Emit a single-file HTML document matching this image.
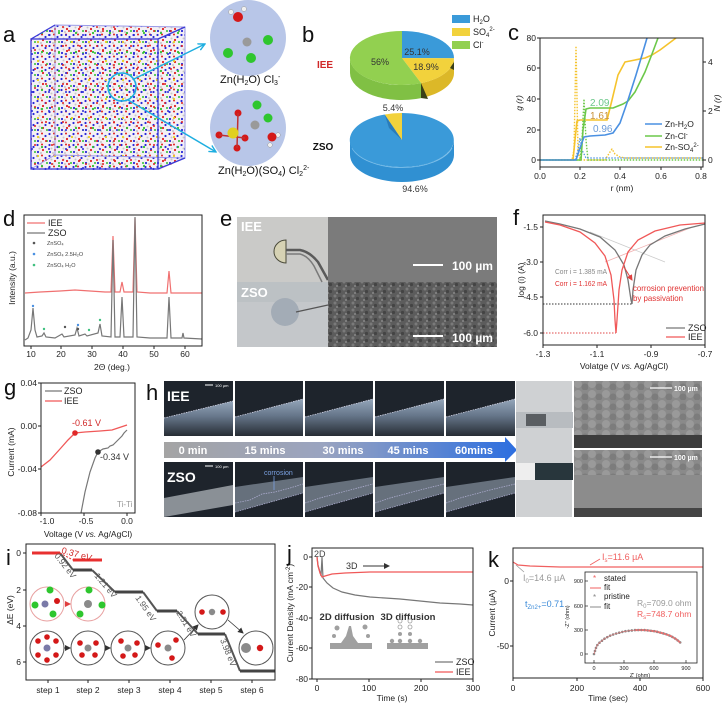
<!DOCTYPE html>
<html><head><meta charset="utf-8"><style>
html,body{margin:0;padding:0;background:#fff;}
svg{display:block;font-family:"Liberation Sans",Arial,sans-serif;}
</style></head><body>
<svg width="723" height="710" viewBox="0 0 723 710" xmlns="http://www.w3.org/2000/svg">
<defs>
<pattern id="molA" width="12" height="11" patternUnits="userSpaceOnUse">
<circle cx="1.5" cy="2" r="1.1" fill="#2a2ad8"/><circle cx="6" cy="1.5" r="1" fill="#e02020"/>
<circle cx="9.5" cy="4" r="1.1" fill="#2a2ad8"/><circle cx="3.5" cy="5.5" r="1" fill="#c8c8c8"/>
<circle cx="7" cy="7" r="1.1" fill="#e02020"/><circle cx="11" cy="9" r="1" fill="#30c030"/>
<circle cx="2" cy="9" r="1.1" fill="#2a2ad8"/><circle cx="5" cy="10" r="0.9" fill="#b8b8b8"/>
</pattern>
<pattern id="molB" width="17" height="19" patternUnits="userSpaceOnUse">
<circle cx="4" cy="4" r="1.1" fill="#e8d020"/><circle cx="12" cy="8" r="1" fill="#e02020"/>
<circle cx="8" cy="14" r="1.1" fill="#30c030"/><circle cx="15" cy="16" r="1" fill="#2a2ad8"/>
<circle cx="1" cy="12" r="1" fill="#e02020"/>
</pattern>
<pattern id="semtex" width="9" height="7" patternUnits="userSpaceOnUse">
<rect width="9" height="7" fill="#5c5c5c"/><circle cx="2" cy="2" r="1.5" fill="#7a7a7a"/><circle cx="6.5" cy="4.5" r="1.6" fill="#444"/><circle cx="4" cy="6" r="1" fill="#888"/>
</pattern>
<pattern id="lump" width="14" height="10" patternUnits="userSpaceOnUse">
<rect width="14" height="10" fill="#8a8a8a"/><circle cx="4" cy="4" r="4" fill="#9a9a9a"/><circle cx="11" cy="7" r="3.5" fill="#7c7c7c"/>
</pattern>
<linearGradient id="tbar" x1="0" x2="1" y1="0" y2="0"><stop offset="0" stop-color="#a4a4a4"/><stop offset="0.45" stop-color="#9aa4c0"/><stop offset="1" stop-color="#2c6ee0"/></linearGradient>
<linearGradient id="bandI" x1="0" x2="0" y1="0" y2="1"><stop offset="0" stop-color="#94a6ba"/><stop offset="0.45" stop-color="#66768a"/><stop offset="1" stop-color="#262c34"/></linearGradient>
<marker id="arrC" markerWidth="8" markerHeight="8" refX="7" refY="4" orient="auto" markerUnits="userSpaceOnUse"><path d="M0,0.5 L7,4 L0,7.5" fill="none" stroke="#1eaee0" stroke-width="1.4"/></marker>
<marker id="arrR" markerWidth="6" markerHeight="6" refX="5" refY="3" orient="auto" markerUnits="userSpaceOnUse"><path d="M0,0 L6,3 L0,6 z" fill="#e04040"/></marker>
<marker id="arrK" markerWidth="6" markerHeight="6" refX="5" refY="3" orient="auto" markerUnits="userSpaceOnUse"><path d="M0,0 L6,3 L0,6 z" fill="#333"/></marker>
</defs>
<rect width="723" height="710" fill="#fff"/>

<!-- ============ Panel a ============ -->
<text x="3" y="42" font-size="22" fill="#111">a</text>
<polygon points="31,39 55,25 185,27 185,158 160,170 31,170" fill="#f4f0f4"/>
<polygon points="31,39 55,25 185,27 185,158 160,170 31,170" fill="url(#molA)"/>
<polygon points="31,39 55,25 185,27 185,158 160,170 31,170" fill="url(#molB)"/>
<g fill="none" stroke="#9a9ae8" stroke-width="1">
<polyline points="55,155 55,25 185,27 185,158 55,155"/><line x1="31" y1="169" x2="55" y2="155"/>
</g>
<g fill="none" stroke="#3a3ad8" stroke-width="1.3">
<rect x="31" y="39" width="127" height="130"/>
<line x1="31" y1="39" x2="55" y2="25"/><line x1="158" y1="39" x2="185" y2="27"/><line x1="158" y1="169" x2="185" y2="158"/>
</g>
<circle cx="122" cy="87" r="14" fill="none" stroke="#1eaee0" stroke-width="1.6"/>
<line x1="134" y1="79" x2="205" y2="44" stroke="#1eaee0" stroke-width="1.5" marker-end="url(#arrC)"/>
<line x1="128" y1="100" x2="216" y2="152" stroke="#1eaee0" stroke-width="1.5" marker-end="url(#arrC)"/>
<circle cx="248" cy="38" r="38" fill="#b8c6e8"/>
<circle cx="248" cy="128" r="38" fill="#b8c6e8"/>
<circle cx="231" cy="12" r="2.5" fill="#f0f0f0" stroke="#999" stroke-width="0.5"/>
<circle cx="244" cy="9" r="2.5" fill="#f0f0f0" stroke="#999" stroke-width="0.5"/>
<circle cx="238" cy="17" r="5" fill="#d41818"/>
<circle cx="247" cy="42" r="4.5" fill="#9a9a9a"/>
<circle cx="228" cy="53" r="5" fill="#2ec62e"/>
<circle cx="251" cy="58" r="5" fill="#2ec62e"/>
<circle cx="268" cy="40" r="5" fill="#2ec62e"/>
<circle cx="219" cy="135" r="3.5" fill="#d41818"/>
<circle cx="238" cy="113" r="3.5" fill="#d41818"/>
<circle cx="245" cy="138" r="3.5" fill="#d41818"/>
<circle cx="237" cy="148" r="3.5" fill="#d41818"/>
<line x1="219" y1="135" x2="245" y2="138" stroke="#c03030" stroke-width="1.5"/>
<line x1="238" y1="113" x2="237" y2="148" stroke="#c03030" stroke-width="1.5"/>
<circle cx="233" cy="133" r="5.5" fill="#e0d020"/>
<circle cx="257" cy="105" r="4.5" fill="#2ec62e"/>
<circle cx="268" cy="118" r="4.5" fill="#2ec62e"/>
<circle cx="255" cy="125" r="4.5" fill="#9a9a9a"/>
<circle cx="278" cy="135" r="2.3" fill="#f0f0f0" stroke="#999" stroke-width="0.5"/>
<circle cx="270" cy="145" r="2.3" fill="#f0f0f0" stroke="#999" stroke-width="0.5"/>
<circle cx="272" cy="137" r="4.5" fill="#d41818"/>
<text x="220" y="83" font-size="11" fill="#111">Zn(H<tspan font-size="7" dy="2">2</tspan><tspan dy="-2">O) Cl</tspan><tspan font-size="7" dy="2">3</tspan><tspan font-size="7" dy="-6">-</tspan></text>
<text x="218" y="174" font-size="11" fill="#111">Zn(H<tspan font-size="7" dy="2">2</tspan><tspan dy="-2">O)(SO</tspan><tspan font-size="7" dy="2">4</tspan><tspan dy="-2">) Cl</tspan><tspan font-size="7" dy="2">2</tspan><tspan font-size="7" dy="-6">2-</tspan></text>

<!-- ============ Panel b ============ -->
<text x="302" y="42" font-size="22" fill="#111">b</text>
<rect x="452" y="15" width="18" height="8" fill="#3a9ad9"/>
<rect x="452" y="28" width="18" height="8" fill="#f2d23c"/>
<rect x="452" y="41" width="18" height="8" fill="#92d050"/>
<text x="473" y="22" font-size="9" fill="#222">H<tspan font-size="6" dy="2">2</tspan><tspan dy="-2">O</tspan></text>
<text x="473" y="35" font-size="9" fill="#222">SO<tspan font-size="6" dy="2">4</tspan><tspan font-size="6" dy="-6">2-</tspan></text>
<text x="473" y="48" font-size="9" fill="#222">Cl<tspan font-size="6" dy="-4">-</tspan></text>
<path d="M454 58.2 L454 73.2 A52 27 0 0 1 421.1 98.1 L421.1 83.1 A52 27 0 0 0 454 58.2 Z" fill="#dcb828"/>
<path d="M421.1 83.1 L421.1 98.1 A52 27 0 0 1 350 73 L350 58 A52 27 0 0 0 421.1 83.1 Z" fill="#80c044"/>
<path d="M402 58 L402 31 A52 27 0 0 1 454 58.2 Z" fill="#3a9ad9"/>
<path d="M402 58 L454 58.2 A52 27 0 0 1 421.1 83.1 Z" fill="#f2d23c"/>
<path d="M402 58 L421.1 83.1 A52 27 0 1 1 402 31 Z" fill="#92d050"/>
<path d="M421 83 L428 99 L421 98 Z" fill="#3a4018"/>
<path d="M454 62 L450 68 L454 70 Z" fill="#3a4018"/>
<text x="417" y="55" font-size="9" fill="#333" text-anchor="middle">25.1%</text>
<text x="426" y="70" font-size="9" fill="#333" text-anchor="middle">18.9%</text>
<text x="380" y="65" font-size="9" fill="#333" text-anchor="middle">56%</text>
<text x="325" y="68" font-size="10" font-weight="bold" fill="#d02828" text-anchor="middle">IEE</text>
<path d="M454 140 L454 155 A52 27 0 0 1 350 155 L350 140 A52 27 0 0 0 454 140 Z" fill="#3090d2"/>
<path d="M352 148 A52 27 0 0 0 452 148" fill="none" stroke="#7ec0ea" stroke-width="0.8"/>
<path d="M402 140 L402 113 A52 27 0 1 1 384.7 114.5 Z" fill="#3a9ad9"/>
<path d="M402 140 L384.7 114.5 A52 27 0 0 1 402 113 Z" fill="#f2d23c"/>
<path d="M384.7 114.5 L402 140 L389 128 Z" fill="#2a7cba"/>
<text x="393" y="111" font-size="9" fill="#333" text-anchor="middle">5.4%</text>
<text x="415" y="192" font-size="9" fill="#333" text-anchor="middle">94.6%</text>
<text x="323" y="150" font-size="10" font-weight="bold" fill="#111" text-anchor="middle">ZSO</text>

<!-- ============ Panel c ============ -->
<text x="508" y="40" font-size="22" fill="#111">c</text>
<g fill="none" stroke-linejoin="round">
<polyline points="540,160 572,160 574,150 576,46 578,150 580,160 605,160 610,152 612,149 615,154 620,157 625,158 703,158" stroke="#f5c32c" stroke-width="1.4" stroke-dasharray="1.5,1.5"/>
<polyline points="540,160 580,160 582,140 584,99 586,140 588,160 703,160" stroke="#6cc84a" stroke-width="1.4" stroke-dasharray="1.5,1.5"/>
<polyline points="575,160 578,150 580,138 582,150 586,158 620,158 703,158" stroke="#4a90e2" stroke-width="1.2" stroke-dasharray="1.5,1.5"/>
<polyline points="540,160 573,160 575,140 577,121 580,120 607,120 612,100 618,75 625,62 635,60 645,58 652,55 660,50 668,44 676,38" stroke="#f5c32c" stroke-width="1.6"/>
<polyline points="540,160 581,160 583,130 586,109 590,108 613,108 618,106 623,104 628,101 635,92 645,72 652,54 658,38" stroke="#6cc84a" stroke-width="1.6"/>
<polyline points="540,160 576,160 580,148 584,137 590,136 605,135 613,133 620,123 628,100 636,75 642,55 647,38" stroke="#4a90e2" stroke-width="1.6"/>
</g>
<rect x="540" y="38" width="163" height="129" fill="none" stroke="#222" stroke-width="1"/>
<g stroke="#222" stroke-width="1">
<line x1="537" y1="160" x2="540" y2="160"/><line x1="537" y1="130" x2="540" y2="130"/><line x1="537" y1="99" x2="540" y2="99"/><line x1="537" y1="68" x2="540" y2="68"/><line x1="537" y1="38" x2="540" y2="38"/>
<line x1="540" y1="167" x2="540" y2="170"/><line x1="580" y1="167" x2="580" y2="170"/><line x1="620" y1="167" x2="620" y2="170"/><line x1="661" y1="167" x2="661" y2="170"/><line x1="701" y1="167" x2="701" y2="170"/>
<line x1="703" y1="160" x2="706" y2="160"/><line x1="703" y1="111" x2="706" y2="111"/><line x1="703" y1="62" x2="706" y2="62"/>
</g>
<g font-size="8.5" fill="#222">
<text x="536" y="163" text-anchor="end">0</text><text x="536" y="133" text-anchor="end">20</text><text x="536" y="102" text-anchor="end">40</text><text x="536" y="71" text-anchor="end">60</text><text x="536" y="41" text-anchor="end">80</text>
<text x="540" y="179" text-anchor="middle">0.0</text><text x="580" y="179" text-anchor="middle">0.2</text><text x="620" y="179" text-anchor="middle">0.4</text><text x="661" y="179" text-anchor="middle">0.6</text><text x="701" y="179" text-anchor="middle">0.8</text>
<text x="708" y="163">0</text><text x="708" y="114">2</text><text x="708" y="65">4</text>
<text x="622" y="191" text-anchor="middle">r (nm)</text>
<text transform="translate(522,103) rotate(-90)" text-anchor="middle" font-style="italic">g (r)</text>
<text transform="translate(720,103) rotate(-90)" text-anchor="middle" font-style="italic">N (r)</text>
</g>
<text x="590" y="106" font-size="10" fill="#6cc88a">2.09</text>
<text x="590" y="119" font-size="10" fill="#c8923a">1.61</text>
<text x="593" y="132" font-size="10" fill="#6a9ad8">0.96</text>
<line x1="645" y1="124" x2="662" y2="124" stroke="#4a90e2" stroke-width="1.6"/>
<line x1="645" y1="136" x2="662" y2="136" stroke="#6cc84a" stroke-width="1.6"/>
<line x1="645" y1="147" x2="662" y2="147" stroke="#f5c32c" stroke-width="1.6"/>
<g font-size="8.5" fill="#222">
<text x="665" y="127">Zn-H<tspan font-size="6" dy="2">2</tspan><tspan dy="-2">O</tspan></text>
<text x="665" y="139">Zn-Cl<tspan font-size="6" dy="-3">-</tspan></text>
<text x="665" y="150">Zn-SO<tspan font-size="6" dy="2">4</tspan><tspan font-size="6" dy="-5">2-</tspan></text>
</g>

<!-- ============ Panel d ============ -->
<text x="3" y="226" font-size="22" fill="#111">d</text>
<polyline fill="none" stroke="#f07070" stroke-width="1.2" points="25,293 40,292 60,291 75,290 90,291 105,292 111,292 113,236 115,292 120,292 122,282 124,292 133,292 135,218 137,292 150,293 167,293 169,271 171,293 202,293"/>
<polyline fill="none" stroke="#777" stroke-width="1.2" points="25,340 28,338 31,330 33,308 35,330 37,337 42,336 44,333 46,337 55,338 62,334 64,337 75,335 77,328 79,336 85,334 87,336 98,333 100,324 102,336 111,337 113,240 115,337 120,337 122,297 124,337 133,337 135,217 137,337 150,338 167,338 169,297 171,338 182,338 183,333 184,338 202,339"/>
<rect x="24" y="215" width="178" height="131" fill="none" stroke="#222" stroke-width="1"/>
<g stroke="#222"><line x1="31" y1="346" x2="31" y2="349"/><line x1="61" y1="346" x2="61" y2="349"/><line x1="92" y1="346" x2="92" y2="349"/><line x1="123" y1="346" x2="123" y2="349"/><line x1="154" y1="346" x2="154" y2="349"/><line x1="185" y1="346" x2="185" y2="349"/></g>
<g font-size="8.5" fill="#222" text-anchor="middle">
<text x="31" y="357">10</text><text x="61" y="357">20</text><text x="92" y="357">30</text><text x="123" y="357">40</text><text x="154" y="357">50</text><text x="185" y="357">60</text>
<text x="112" y="370">2Θ (deg.)</text>
<text transform="translate(15,278) rotate(-90)">Intensity (a.u.)</text>
</g>
<line x1="27" y1="223" x2="45" y2="223" stroke="#f07070" stroke-width="1.2"/>
<line x1="27" y1="233" x2="45" y2="233" stroke="#777" stroke-width="1.2"/>
<text x="48" y="226" font-size="9" fill="#222">IEE</text>
<text x="48" y="236" font-size="9" fill="#222">ZSO</text>
<circle cx="34" cy="243" r="1.3" fill="#555"/><circle cx="34" cy="254" r="1.3" fill="#4a90e2"/><circle cx="34" cy="265" r="1.3" fill="#40c080"/>
<g font-size="5.5" fill="#444"><text x="47" y="245">ZnSO₄</text><text x="47" y="256">ZnSO₄ 2.5H₂O</text><text x="47" y="267">ZnSO₄ H₂O</text></g>
<g><circle cx="33" cy="306" r="1.2" fill="#4a90e2"/><circle cx="44" cy="329" r="1.2" fill="#40c080"/><circle cx="65" cy="327" r="1.2" fill="#555"/><circle cx="78" cy="325" r="1.2" fill="#4a90e2"/><circle cx="78" cy="329" r="1.2" fill="#555"/><circle cx="89" cy="330" r="1.2" fill="#40c080"/><circle cx="100" cy="320" r="1.2" fill="#40c080"/></g>

<!-- ============ Panel e ============ -->
<text x="220" y="226" font-size="22" fill="#111">e</text>
<rect x="237" y="217" width="91" height="65" fill="#cacac8"/>
<rect x="237" y="282" width="91" height="65" fill="#c4c7ca"/>
<rect x="237" y="282" width="91" height="20" fill="#b8bcc0" opacity="0.6"/>
<path d="M286 240 L286 263 A12 11.5 0 0 1 286 240 Z" fill="#d6d2b4" stroke="#4a4a3a" stroke-width="1"/>
<path d="M286 250 L300 250 Q310 252 318 262 L328 280" fill="none" stroke="#5a5a5a" stroke-width="2.5"/>
<path d="M286 254 L300 254 Q308 256 314 266 L322 282" fill="none" stroke="#7a7a7a" stroke-width="1.5"/>
<circle cx="285" cy="312" r="14" fill="#a3acb6"/>
<line x1="296" y1="312" x2="328" y2="305" stroke="#555" stroke-width="1.2"/>
<text x="241" y="231" font-size="13" font-weight="bold" fill="#fff">IEE</text>
<text x="241" y="297" font-size="13" font-weight="bold" fill="#fff">ZSO</text>
<rect x="328" y="217" width="169" height="65" fill="#7b7b7b"/>
<rect x="328" y="282" width="169" height="65" fill="url(#semtex)"/>
<line x1="413" y1="265" x2="443" y2="265" stroke="#fff" stroke-width="2"/>
<text x="452" y="270" font-size="12" font-weight="bold" fill="#fff">100 µm</text>
<line x1="413" y1="336" x2="443" y2="336" stroke="#fff" stroke-width="2"/>
<text x="452" y="342" font-size="12" font-weight="bold" fill="#fff">100 µm</text>

<!-- ============ Panel f ============ -->
<text x="513" y="225" font-size="22" fill="#111">f</text>
<line x1="590" y1="232" x2="665" y2="262" stroke="#ccc" stroke-width="0.8"/>
<line x1="605" y1="262" x2="690" y2="228" stroke="#f0b0b0" stroke-width="0.8"/>
<line x1="543" y1="304" x2="632" y2="304" stroke="#333" stroke-width="1" stroke-dasharray="1.5,1.5"/>
<line x1="543" y1="333" x2="616" y2="333" stroke="#e04848" stroke-width="1" stroke-dasharray="1.5,1.5"/>
<polyline fill="none" stroke="#777" stroke-width="1.3" points="545,221 560,224 580,229 600,237 615,250 624,265 628,280 631,300 632,304 633,290 636,270 642,255 650,245 665,236 685,229 705,224"/>
<polyline fill="none" stroke="#f05858" stroke-width="1.3" points="545,222 560,225 580,232 595,243 605,256 611,275 614,300 615,320 616,333 617,320 619,290 622,270 628,252 638,240 655,231 680,225 705,223"/>
<rect x="543" y="215" width="162" height="130" fill="none" stroke="#222" stroke-width="1"/>
<g stroke="#222"><line x1="540" y1="227" x2="543" y2="227"/><line x1="540" y1="262" x2="543" y2="262"/><line x1="540" y1="297" x2="543" y2="297"/><line x1="540" y1="333" x2="543" y2="333"/>
<line x1="543" y1="345" x2="543" y2="348"/><line x1="597" y1="345" x2="597" y2="348"/><line x1="651" y1="345" x2="651" y2="348"/><line x1="705" y1="345" x2="705" y2="348"/></g>
<g font-size="8.5" fill="#222">
<text x="538" y="230" text-anchor="end">-1.5</text><text x="538" y="265" text-anchor="end">-3.0</text><text x="538" y="300" text-anchor="end">-4.5</text><text x="538" y="336" text-anchor="end">-6.0</text>
<text x="543" y="357" text-anchor="middle">-1.3</text><text x="597" y="357" text-anchor="middle">-1.1</text><text x="651" y="357" text-anchor="middle">-0.9</text><text x="705" y="357" text-anchor="middle">-0.7</text>
<text x="624" y="369" text-anchor="middle">Volatge (V <tspan font-style="italic">vs.</tspan> Ag/AgCl)</text>
<text transform="translate(524,280) rotate(-90)" text-anchor="middle">log (i) (A)</text>
</g>
<text x="555" y="274" font-size="7.5" fill="#888" textLength="52" lengthAdjust="spacingAndGlyphs">Corr i = 1.385 mA</text>
<text x="555" y="286" font-size="7.5" fill="#e03030" textLength="52" lengthAdjust="spacingAndGlyphs">Corr i = 1.162 mA</text>
<line x1="624" y1="267" x2="632" y2="280" stroke="#e04040" stroke-width="1" marker-end="url(#arrR)"/>
<text x="633" y="291" font-size="8.5" fill="#e03030" textLength="71" lengthAdjust="spacingAndGlyphs">corrosion prevention</text>
<text x="633" y="301" font-size="8.5" fill="#e03030" textLength="50" lengthAdjust="spacingAndGlyphs">by passivation</text>
<line x1="666" y1="328" x2="685" y2="328" stroke="#777" stroke-width="1.3"/>
<line x1="666" y1="337" x2="685" y2="337" stroke="#f05858" stroke-width="1.3"/>
<text x="688" y="331" font-size="9" fill="#222">ZSO</text>
<text x="688" y="340" font-size="9" fill="#222">IEE</text>

<!-- ============ Panel g ============ -->
<text x="4" y="395" font-size="22" fill="#111">g</text>
<polyline fill="none" stroke="#f05858" stroke-width="1.3" points="41,467 50,460 60,449 68,440 75,433 85,432 100,431 112,430 118,428 127,425"/>
<polyline fill="none" stroke="#777" stroke-width="1.2" points="81,513 85,492 90,472 95,458 98,452 103,449 108,448 110,446 113,445 116,442 119,439 122,436 124,433 127,430"/>
<circle cx="75" cy="433" r="2.8" fill="#e02828"/>
<circle cx="98" cy="452" r="2.8" fill="#333"/>
<rect x="41" y="383" width="94" height="130" fill="none" stroke="#222" stroke-width="1"/>
<g stroke="#222"><line x1="38" y1="383" x2="41" y2="383"/><line x1="38" y1="426" x2="41" y2="426"/><line x1="38" y1="469" x2="41" y2="469"/><line x1="38" y1="513" x2="41" y2="513"/>
<line x1="41" y1="513" x2="41" y2="516"/><line x1="84" y1="513" x2="84" y2="516"/><line x1="127" y1="513" x2="127" y2="516"/></g>
<g font-size="8.5" fill="#222">
<text x="37" y="386" text-anchor="end">0.04</text><text x="37" y="429" text-anchor="end">0.00</text><text x="37" y="472" text-anchor="end">-0.04</text><text x="37" y="516" text-anchor="end">-0.08</text>
<text x="47" y="524" text-anchor="middle">-1.0</text><text x="86" y="524" text-anchor="middle">-0.5</text><text x="127" y="524" text-anchor="middle">0.0</text>
<text x="88" y="537" text-anchor="middle">Voltage (V <tspan font-style="italic">vs.</tspan> Ag/AgCl)</text>
<text transform="translate(14,452) rotate(-90)" text-anchor="middle">Current (mA)</text>
</g>
<line x1="45" y1="391" x2="62" y2="391" stroke="#777" stroke-width="1.2"/>
<line x1="45" y1="401" x2="62" y2="401" stroke="#f05858" stroke-width="1.2"/>
<text x="64" y="394" font-size="9" fill="#222">ZSO</text>
<text x="64" y="404" font-size="9" fill="#222">IEE</text>
<text x="72" y="426" font-size="9" fill="#d02828">-0.61 V</text>
<text x="100" y="460" font-size="9" fill="#333">-0.34 V</text>
<text x="117" y="507" font-size="8" fill="#999">Ti-Ti</text>

<!-- ============ Panel h ============ -->
<text x="146" y="400" font-size="22" fill="#111">h</text>
<g>
<rect x="164" y="381" width="69" height="55" fill="#1e242c"/>
<rect x="235" y="381" width="68" height="55" fill="#1e242c"/>
<rect x="305" y="381" width="68" height="55" fill="#1e242c"/>
<rect x="375" y="381" width="69" height="55" fill="#1e242c"/>
<rect x="446" y="381" width="69" height="55" fill="#1e242c"/>
<polygon points="164,418 233,401 233,436 164,436" fill="url(#bandI)"/>
<polygon points="235,417 303,399 303,436 235,436" fill="url(#bandI)"/>
<polygon points="305,417 373,399 373,436 305,436" fill="url(#bandI)"/>
<polygon points="375,417 444,399 444,436 375,436" fill="url(#bandI)"/>
<polygon points="446,417 515,399 515,436 446,436" fill="url(#bandI)"/>
<g stroke="#dde" stroke-width="0.7" stroke-dasharray="1.5,1">
<line x1="164" y1="418" x2="233" y2="401"/><line x1="235" y1="417" x2="303" y2="399"/><line x1="305" y1="417" x2="373" y2="399"/><line x1="375" y1="417" x2="444" y2="399"/><line x1="446" y1="417" x2="515" y2="399"/>
</g>
<rect x="164" y="462" width="69" height="55" fill="#1e242c"/>
<rect x="235" y="462" width="68" height="55" fill="#1e242c"/>
<rect x="305" y="462" width="68" height="55" fill="#1e242c"/>
<rect x="375" y="462" width="69" height="55" fill="#1e242c"/>
<rect x="446" y="462" width="69" height="55" fill="#1e242c"/>
<polygon points="164,498 233,485 233,505 164,517" fill="#8a9096"/>
<polygon points="235,487 303,477 303,493 235,512" fill="#66707c"/>
<polygon points="305,487 373,477 373,493 305,512" fill="#66707c"/>
<polygon points="375,487 444,477 444,493 375,512" fill="#66707c"/>
<polygon points="446,487 515,477 515,493 446,512" fill="#66707c"/>
<g fill="none" stroke="#aac" stroke-width="0.8" stroke-dasharray="1.5,1">
<polyline points="235,503 250,500 262,494 275,492 290,488 303,484"/>
<polyline points="305,503 320,498 335,494 350,490 373,484"/>
<polyline points="375,503 390,498 405,494 420,490 444,484"/>
<polyline points="446,503 460,498 475,494 490,490 515,484"/>
<line x1="235" y1="512" x2="303" y2="493"/><line x1="305" y1="512" x2="373" y2="493"/><line x1="375" y1="512" x2="444" y2="493"/><line x1="446" y1="512" x2="515" y2="493"/>
</g>
<line x1="274" y1="476" x2="274" y2="490" stroke="#7aa0e0" stroke-width="0.8"/>
<text x="264" y="475" font-size="7" fill="#7aa0e0">corrosion</text>
<text x="167" y="401" font-size="14" font-weight="bold" fill="#fff">IEE</text>
<text x="167" y="482" font-size="14" font-weight="bold" fill="#fff">ZSO</text>
<line x1="205" y1="385" x2="213" y2="385" stroke="#fff" stroke-width="1"/><text x="215" y="387" font-size="4" fill="#fff">100 µm</text>
<line x1="205" y1="466" x2="213" y2="466" stroke="#fff" stroke-width="1"/><text x="215" y="468" font-size="4" fill="#fff">100 µm</text>
<polygon points="164,442 505,442 505,437 517,450 505,462 505,458 164,458" fill="url(#tbar)"/>
<g font-size="11" font-weight="bold" fill="#fff" text-anchor="middle">
<text x="193" y="454">0 min</text><text x="265" y="454">15 mins</text><text x="343" y="454">30 mins</text><text x="408" y="454">45 mins</text><text x="474" y="454">60mins</text>
</g>
<rect x="516" y="381" width="56" height="136" fill="#cfd1d3"/>
<rect x="516" y="412" width="57" height="16" fill="#b8bcc0"/>
<rect x="526" y="414" width="20" height="12" fill="#5a5e62"/>
<rect x="516" y="463" width="19" height="17" fill="#eeeeee"/>
<rect x="535" y="463" width="38" height="17" fill="#28363c"/>
<rect x="574" y="381" width="128" height="67" fill="url(#lump)"/>
<rect x="574" y="435" width="128" height="13" fill="#3c3c3c"/>
<rect x="574" y="450" width="128" height="67" fill="#8c8c8c"/>
<rect x="574" y="450" width="128" height="25" fill="url(#lump)"/>
<rect x="574" y="508" width="128" height="9" fill="#444"/>
<line x1="650" y1="388" x2="672" y2="388" stroke="#fff" stroke-width="1.3"/>
<text x="674" y="391" font-size="7" font-weight="bold" fill="#fff">100 µm</text>
<line x1="650" y1="457" x2="672" y2="457" stroke="#fff" stroke-width="1.3"/>
<text x="674" y="460" font-size="7" font-weight="bold" fill="#fff">100 µm</text>
</g>

<!-- ============ Panel i ============ -->
<text x="6" y="565" font-size="22" fill="#111">i</text>
<g stroke="#555" stroke-width="2" fill="none">
<line x1="60" y1="553" x2="73" y2="570"/><line x1="92" y1="570" x2="115" y2="592"/><line x1="143" y1="592" x2="157" y2="611"/><line x1="177" y1="611" x2="198" y2="634"/><line x1="225" y1="634" x2="240" y2="671"/>
</g>
<g stroke="#444" stroke-width="3">
<line x1="73" y1="570" x2="92" y2="570"/><line x1="115" y1="592" x2="143" y2="592"/><line x1="157" y1="611" x2="177" y2="611"/><line x1="198" y1="634" x2="225" y2="634"/><line x1="240" y1="671" x2="275" y2="671"/>
</g>
<line x1="32" y1="553" x2="60" y2="553" stroke="#e83030" stroke-width="3"/>
<line x1="73" y1="560" x2="102" y2="560" stroke="#e83030" stroke-width="3"/>
<line x1="60" y1="553" x2="73" y2="560" stroke="#e83030" stroke-width="1" stroke-dasharray="2,1.5"/>
<text transform="translate(61,553) rotate(15)" font-size="9" fill="#d02828">0.37 eV</text>
<g font-size="8.5" fill="#555">
<text transform="translate(54,556) rotate(52)">0.92 eV</text>
<text transform="translate(94,576) rotate(50)">1.21 eV</text>
<text transform="translate(135,598) rotate(55)">1.95 eV</text>
<text transform="translate(176,613) rotate(58)">2.51 eV</text>
<text transform="translate(220,640) rotate(68)">3.98 eV</text>
</g>
<circle cx="47" cy="604" r="17" fill="#fff" stroke="#e8a0a0" stroke-width="1"/>
<circle cx="88" cy="604" r="17" fill="#fff" stroke="#e8a0a0" stroke-width="1"/>
<line x1="65" y1="604" x2="70" y2="604" stroke="#d03030" stroke-width="1" marker-end="url(#arrR)"/>
<circle cx="50" cy="590" r="3.5" fill="#2ec62e"/><circle cx="35" cy="605" r="3.5" fill="#2ec62e"/><circle cx="53" cy="614" r="3.5" fill="#2ec62e"/>
<circle cx="45" cy="604" r="3.5" fill="#7a7aa8"/><circle cx="57" cy="601" r="3" fill="#d41818"/>
<circle cx="88" cy="604" r="4" fill="#8a8a8a"/><circle cx="89" cy="590" r="3.5" fill="#2ec62e"/><circle cx="80" cy="614" r="3.5" fill="#2ec62e"/><circle cx="102" cy="605" r="3.5" fill="#2ec62e"/>
<g fill="#fff" stroke="#555" stroke-width="1">
<circle cx="47" cy="648" r="17"/><circle cx="88" cy="648" r="17"/><circle cx="128" cy="648" r="17"/><circle cx="168" cy="648" r="17"/><circle cx="212" cy="612" r="17"/><circle cx="256" cy="648" r="17"/>
</g>
<g stroke="#333" stroke-width="0.8"><line x1="64" y1="648" x2="70" y2="648" marker-end="url(#arrK)"/><line x1="105" y1="648" x2="110" y2="648" marker-end="url(#arrK)"/><line x1="145" y1="648" x2="150" y2="648" marker-end="url(#arrK)"/><line x1="184" y1="640" x2="198" y2="625" marker-end="url(#arrK)"/><line x1="228" y1="620" x2="243" y2="633" marker-end="url(#arrK)"/></g>
<circle cx="47" cy="648" r="3.5" fill="#7a7aa8"/>
<g fill="#d41818">
<circle cx="38" cy="641" r="2.8"/><circle cx="56" cy="641" r="2.8"/><circle cx="38" cy="655" r="2.8"/><circle cx="56" cy="655" r="2.8"/><circle cx="47" cy="637" r="2.8"/><circle cx="47" cy="660" r="2.8"/>
<circle cx="80" cy="643" r="2.8"/><circle cx="96" cy="643" r="2.8"/><circle cx="82" cy="655" r="2.8"/><circle cx="95" cy="655" r="2.8"/>
<circle cx="121" cy="641" r="2.8"/><circle cx="137" cy="643" r="2.8"/><circle cx="123" cy="656" r="2.8"/><circle cx="135" cy="655" r="2.8"/>
<circle cx="158" cy="645" r="2.8"/><circle cx="176" cy="640" r="2.8"/><circle cx="172" cy="658" r="2.8"/>
<circle cx="202" cy="612" r="2.8"/><circle cx="223" cy="612" r="2.8"/>
<circle cx="260" cy="648" r="3.2"/>
</g>
<g fill="#8a8a8a"><circle cx="88" cy="648" r="3.5"/><circle cx="128" cy="648" r="3.5"/><circle cx="168" cy="648" r="3.5"/><circle cx="212" cy="612" r="3.2"/><circle cx="246" cy="648" r="5"/></g>
<rect x="26" y="544" width="249" height="136" fill="none" stroke="#222" stroke-width="1"/>
<g stroke="#222"><line x1="23" y1="553" x2="26" y2="553"/><line x1="23" y1="590" x2="26" y2="590"/><line x1="23" y1="626" x2="26" y2="626"/><line x1="23" y1="662" x2="26" y2="662"/>
<line x1="48" y1="680" x2="48" y2="683"/><line x1="88" y1="680" x2="88" y2="683"/><line x1="129" y1="680" x2="129" y2="683"/><line x1="170" y1="680" x2="170" y2="683"/><line x1="211" y1="680" x2="211" y2="683"/><line x1="252" y1="680" x2="252" y2="683"/></g>
<g font-size="8.5" fill="#222">
<text x="21" y="556" text-anchor="end">0</text><text x="21" y="593" text-anchor="end">2</text><text x="21" y="629" text-anchor="end">4</text><text x="21" y="665" text-anchor="end">6</text>
<text x="48" y="693" text-anchor="middle">step 1</text><text x="88" y="693" text-anchor="middle">step 2</text><text x="129" y="693" text-anchor="middle">step 3</text><text x="170" y="693" text-anchor="middle">step 4</text><text x="211" y="693" text-anchor="middle">step 5</text><text x="252" y="693" text-anchor="middle">step 6</text>
<text transform="translate(13,610) rotate(-90)" text-anchor="middle">ΔE (eV)</text>
</g>

<!-- ============ Panel j ============ -->
<text x="287" y="561" font-size="22" fill="#111">j</text>
<polyline fill="none" stroke="#777" stroke-width="1.2" points="317,557 318,565 320,572 321,576 322,557 323,578 327,583 333,588 342,592 355,595 370,597 385,598 400,599 420,601 440,603 460,604 473,605"/>
<polyline fill="none" stroke="#f05858" stroke-width="1.3" points="317,557 318,566 320,573 322,577 325,576 332,574 345,573 370,572 420,572 473,572"/>
<text x="314" y="557" font-size="9" fill="#444">2D</text>
<text x="346" y="569" font-size="9" fill="#333">3D</text>
<line x1="363" y1="566" x2="389" y2="566" stroke="#333" stroke-width="1" marker-end="url(#arrK)"/>
<text x="347" y="620" font-size="9.5" font-weight="bold" fill="#333" text-anchor="middle">2D diffusion</text>
<text x="408" y="620" font-size="9.5" font-weight="bold" fill="#333" text-anchor="middle">3D diffusion</text>
<rect x="330" y="643" width="42" height="6" fill="#a0a0a0"/>
<polygon points="341,643 346,636 349,626 351,626 353,636 358,643" fill="#a0a0a0"/>
<g fill="#a0a0a0"><circle cx="337" cy="628" r="2.5"/><circle cx="365" cy="627" r="2.5"/><circle cx="334" cy="636" r="2"/><circle cx="368" cy="636" r="2"/></g>
<rect x="387" y="643" width="41" height="6" fill="#a0a0a0"/>
<g fill="#a0a0a0"><circle cx="392" cy="641" r="2.2"/><circle cx="400" cy="641" r="2.2"/><circle cx="410" cy="641" r="2.2"/><circle cx="420" cy="641" r="2.2"/>
<circle cx="400" cy="634" r="2"/><circle cx="410" cy="634" r="2"/></g>
<g fill="none" stroke="#a0a0a0" stroke-width="0.8"><circle cx="400" cy="627" r="2"/><circle cx="410" cy="627" r="2"/><circle cx="400" cy="621" r="2"/><circle cx="410" cy="621" r="2"/></g>
<rect x="312" y="548" width="161" height="131" fill="none" stroke="#222" stroke-width="1"/>
<g stroke="#222"><line x1="309" y1="557" x2="312" y2="557"/><line x1="309" y1="587" x2="312" y2="587"/><line x1="309" y1="618" x2="312" y2="618"/><line x1="309" y1="648" x2="312" y2="648"/><line x1="309" y1="679" x2="312" y2="679"/>
<line x1="317" y1="679" x2="317" y2="682"/><line x1="369" y1="679" x2="369" y2="682"/><line x1="421" y1="679" x2="421" y2="682"/><line x1="473" y1="679" x2="473" y2="682"/></g>
<g font-size="8.5" fill="#222">
<text x="308" y="560" text-anchor="end">0</text><text x="308" y="590" text-anchor="end">-20</text><text x="308" y="621" text-anchor="end">-40</text><text x="308" y="651" text-anchor="end">-60</text><text x="308" y="682" text-anchor="end">-80</text>
<text x="317" y="691" text-anchor="middle">0</text><text x="369" y="691" text-anchor="middle">100</text><text x="421" y="691" text-anchor="middle">200</text><text x="473" y="691" text-anchor="middle">300</text>
<text x="392" y="701" text-anchor="middle">Time (s)</text>
<text transform="translate(293,613) rotate(-90)" text-anchor="middle">Current Density (mA cm<tspan font-size="6" dy="-3">-2</tspan><tspan dy="3">)</tspan></text>
</g>
<line x1="435" y1="662" x2="453" y2="662" stroke="#777" stroke-width="1.2"/>
<line x1="435" y1="672" x2="453" y2="672" stroke="#f05858" stroke-width="1.3"/>
<text x="456" y="665" font-size="9" fill="#222">ZSO</text>
<text x="456" y="675" font-size="9" fill="#222">IEE</text>

<!-- ============ Panel k ============ -->
<text x="488" y="567" font-size="22" fill="#111">k</text>
<polyline fill="none" stroke="#f06060" stroke-width="1.2" points="513,562 518,565 530,566 560,567 703,567"/>
<line x1="516" y1="565" x2="524" y2="572" stroke="#999" stroke-width="0.8"/>
<line x1="600" y1="559" x2="590" y2="565" stroke="#f06060" stroke-width="0.8"/>
<text x="523" y="581" font-size="9" fill="#999">I<tspan font-size="6" dy="2">0</tspan><tspan dy="-2">=14.6 µA</tspan></text>
<text x="602" y="560" font-size="9" fill="#f06060">I<tspan font-size="6" dy="2">s</tspan><tspan dy="-2">=11.6 µA</tspan></text>
<text x="525" y="607" font-size="9" fill="#3a8ad8">t<tspan font-size="6" dy="2">Zn2+</tspan><tspan dy="-2">=0.71</tspan></text>
<rect x="585" y="572" width="112" height="91" fill="#fff" stroke="#222" stroke-width="0.8"/>
<path d="M594,654 L596.6,646 L599.1,643 L604.2,638.9 L609.3,636 L614.4,634 L624.7,631.3 L634.9,630.1 L640,630 L645.1,630.1 L655.3,631.3 L665.5,634 L670.7,636 L675.8,638.9 L680.9,643" fill="none" stroke="#888" stroke-width="2.6" stroke-linecap="round" stroke-dasharray="0,3.2"/>
<path d="M634.9,630.1 L640,630 L645.1,630.1 L655.3,631.3 L665.5,634 L670.7,636 L675.8,638.9 L680.9,643" fill="none" stroke="#f07070" stroke-width="2.2" stroke-linecap="round" stroke-dasharray="0,3.2" stroke-dashoffset="1.6"/>
<path d="M594,654 L596.6,646 L599.1,643 L604.2,638.9 L609.3,636 L614.4,634 L624.7,631.3 L634.9,630.1 L640,630 L645.1,630.1 L655.3,631.3 L665.5,634 L670.7,636 L675.8,638.9 L680.9,643" fill="none" stroke="#e07070" stroke-width="0.6"/>
<g stroke="#222" stroke-width="0.7"><line x1="585" y1="581" x2="588" y2="581"/><line x1="585" y1="606" x2="588" y2="606"/><line x1="585" y1="630" x2="588" y2="630"/><line x1="585" y1="654" x2="588" y2="654"/>
<line x1="594" y1="663" x2="594" y2="660"/><line x1="624" y1="663" x2="624" y2="660"/><line x1="654" y1="663" x2="654" y2="660"/><line x1="686" y1="663" x2="686" y2="660"/></g>
<g font-size="5.5" fill="#222">
<text x="583" y="583" text-anchor="end">900</text><text x="583" y="608" text-anchor="end">600</text><text x="583" y="632" text-anchor="end">300</text><text x="583" y="656" text-anchor="end">0</text>
<text x="594" y="670" text-anchor="middle">0</text><text x="624" y="670" text-anchor="middle">300</text><text x="654" y="670" text-anchor="middle">600</text><text x="686" y="670" text-anchor="middle">900</text>
<text x="640" y="677" text-anchor="middle">Z' (ohm)</text>
<text transform="translate(569,617) rotate(-90)" text-anchor="middle">-Z'' (ohm)</text>
</g>
<text x="593" y="581" font-size="8" fill="#f06060">*</text>
<text x="604" y="581" font-size="8" fill="#222">stated</text>
<line x1="590" y1="588" x2="601" y2="588" stroke="#f06060" stroke-width="1"/>
<text x="604" y="590" font-size="8" fill="#222">fit</text>
<text x="593" y="600" font-size="8" fill="#888">*</text>
<text x="604" y="599" font-size="8" fill="#222">pristine</text>
<line x1="590" y1="607" x2="601" y2="607" stroke="#888" stroke-width="1"/>
<text x="604" y="609" font-size="8" fill="#222">fit</text>
<text x="637" y="606" font-size="8.5" fill="#999">R<tspan font-size="6" dy="2">0</tspan><tspan dy="-2">=709.0 ohm</tspan></text>
<text x="637" y="617" font-size="8.5" fill="#f06060">R<tspan font-size="6" dy="2">s</tspan><tspan dy="-2">=748.7 ohm</tspan></text>
<rect x="513" y="548" width="190" height="130" fill="none" stroke="#222" stroke-width="1"/>
<g stroke="#222"><line x1="510" y1="581" x2="513" y2="581"/><line x1="510" y1="646" x2="513" y2="646"/>
<line x1="513" y1="678" x2="513" y2="681"/><line x1="577" y1="678" x2="577" y2="681"/><line x1="640" y1="678" x2="640" y2="681"/><line x1="703" y1="678" x2="703" y2="681"/></g>
<g font-size="8.5" fill="#222">
<text x="509" y="584" text-anchor="end">0</text><text x="509" y="649" text-anchor="end">-50</text>
<text x="513" y="691" text-anchor="middle">0</text><text x="577" y="691" text-anchor="middle">200</text><text x="640" y="691" text-anchor="middle">400</text><text x="703" y="691" text-anchor="middle">600</text>
<text x="608" y="701" text-anchor="middle">Time (sec)</text>
<text transform="translate(495,613) rotate(-90)" text-anchor="middle">Current (µA)</text>
</g>
</svg>
</body></html>
